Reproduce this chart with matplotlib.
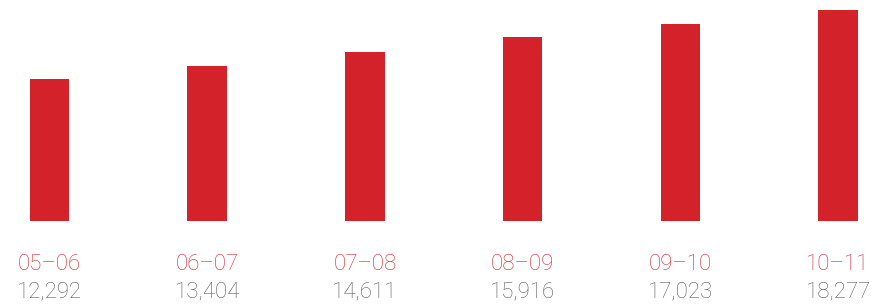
import matplotlib.pyplot as plt
import matplotlib.transforms as mtransforms

# data
years = ["05–06", "06–07", "07–08", "08–09", "09–10", "10–11"]
values = [12292, 13404, 14611, 15916, 17023, 18277]
value_labels = ["12,292", "13,404", "14,611", "15,916", "17,023", "18,277"]

bar_color = "#D3222A"
year_color = "#D42630"
value_color = "#5E5E5E"

fig = plt.figure(figsize=(8.78, 3.05), dpi=100)
ax = fig.add_axes([0, 0.2754, 1, 0.7246])

x = range(len(years))
ax.bar(x, values, width=0.25, color=bar_color)

ax.set_xlim(-0.3139, 5.2536)
ax.set_ylim(0, 19098)
ax.axis("off")

trans = mtransforms.blended_transform_factory(ax.transData, ax.transAxes)
for i in x:
    ax.text(i, -0.222, years[i], transform=trans, ha="center", va="baseline",
            color=year_color, fontsize=16, family="Roboto", fontweight="light",
            clip_on=False)
    ax.text(i, -0.344, value_labels[i], transform=trans, ha="center", va="baseline",
            color=value_color, fontsize=16, family="Roboto", fontweight="light",
            clip_on=False)

fig.savefig("out.png", dpi=100)
